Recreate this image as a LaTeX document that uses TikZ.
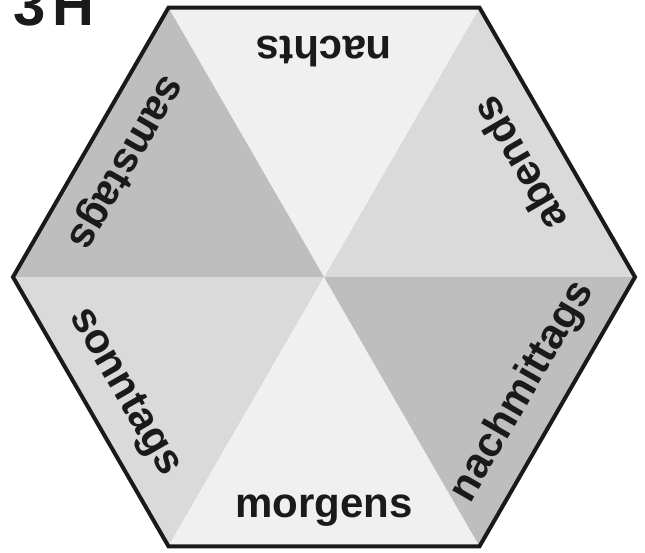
\documentclass[tikz,border=0pt]{standalone}
\usepackage{fontspec}
\setmainfont{Liberation Sans}
\newfontfamily\hexfont{Liberation Sans Bold}
\definecolor{shadelight}{RGB}{240, 240, 240}
\definecolor{shademid}{RGB}{218, 218, 218}
\definecolor{shadedark}{RGB}{190, 190, 190}
\definecolor{inkblack}{RGB}{26, 26, 26}
\usetikzlibrary{positioning, calc}

\begin{document}
\begin{tikzpicture}[
  x=1pt, y=1pt,
  hexlabel/.style={anchor=base, inner sep=0pt, text=inkblack, font=\hexfont\fontsize{42}{42}\selectfont}
]
  \useasboundingbox (-324,-275) rectangle (321,277);
  \coordinate (c) at (0,0);
  \coordinate (v0) at (0:311);
  \coordinate (v1) at (60:311);
  \coordinate (v2) at (120:311);
  \coordinate (v3) at (180:311);
  \coordinate (v4) at (240:311);
  \coordinate (v5) at (300:311);
  % six triangles
  \fill[shademid] (c) -- (v0) -- (v1) -- cycle;
  \fill[shadelight] (c) -- (v1) -- (v2) -- cycle;
  \fill[shadedark] (c) -- (v2) -- (v3) -- cycle;
  \fill[shademid] (c) -- (v3) -- (v4) -- cycle;
  \fill[shadelight] (c) -- (v4) -- (v5) -- cycle;
  \fill[shadedark] (c) -- (v5) -- (v0) -- cycle;
  \draw[inkblack, line width=4pt] (v0) -- (v1) -- (v2) -- (v3) -- (v4) -- (v5) -- cycle;
  % labels along the edges
  \node[hexlabel, rotate=120] (abends) at (30:240) {abends};
  \node[hexlabel, rotate=180] (nachts) at (90:240) {nachts};
  \node[hexlabel, rotate=240] (samstags) at (150:240) {samstags};
  \node[hexlabel, rotate=300] (sonntags) at (210:240) {sonntags};
  \node[hexlabel] (morgens) at (270:240) {morgens};
  \node[hexlabel, rotate=60] (nachmittags) at (330:240) {nachmittags};
  % title, cut off by the page top
  \node[anchor=base west, inner sep=0pt, text=inkblack, font=\hexfont\fontsize{58}{58}\selectfont] (title) at (-311,251) {3\kern7.5pt H};
\end{tikzpicture}
\end{document}
